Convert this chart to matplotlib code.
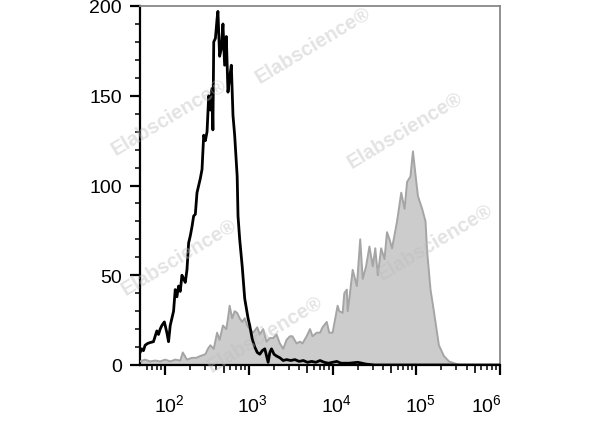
import matplotlib
matplotlib.use("Agg")
import matplotlib.pyplot as plt
import numpy as np
from matplotlib.ticker import FixedLocator, NullFormatter
from matplotlib.transforms import ScaledTranslation

# ---- data (log10 fluorescence intensity, event count) ----
iso_log = [1.70, 1.72, 1.74, 1.76, 1.79, 1.82, 1.86, 1.88, 1.90, 1.92, 1.94, 1.96, 1.99,
           2.02, 2.04, 2.06, 2.08, 2.10, 2.12, 2.14, 2.16, 2.18, 2.20, 2.22, 2.24, 2.26,
           2.28, 2.30, 2.32, 2.34, 2.36, 2.38, 2.40, 2.42, 2.44, 2.46, 2.48, 2.50, 2.52,
           2.54, 2.56, 2.57, 2.58, 2.60, 2.62, 2.63, 2.65, 2.67, 2.69, 2.71, 2.73, 2.75,
           2.77, 2.79, 2.81, 2.83, 2.86, 2.87, 2.89, 2.92, 2.95, 2.99, 3.01, 3.04, 3.07,
           3.10, 3.13, 3.16, 3.19, 3.23, 3.25, 3.27, 3.30, 3.33, 3.37, 3.41, 3.45, 3.50,
           3.55, 3.60, 3.65, 3.70, 3.75, 3.80, 3.85, 3.90, 3.95, 4.00, 4.05, 4.10, 4.20,
           4.30, 4.40, 4.50, 5.00, 6.00]
iso_cnt = [7, 9, 8, 11, 12, 12.5, 13, 16, 19, 17, 20, 22, 24,
           18, 13, 22, 26, 30, 42, 38, 44, 41, 50, 48, 46, 53,
           68, 72, 77, 83, 84, 96, 100, 104, 109, 128, 125, 130, 150,
           142, 154, 131, 180, 182, 193, 197, 172, 176, 190, 167, 183, 152,
           160, 167, 139, 128, 105, 83, 70, 55, 37, 26, 22, 14.5, 10,
           7, 6, 8, 9, 1.5, 7, 9, 6, 5, 4, 2.5, 3, 2.5,
           3, 2, 2.5, 1.5, 2, 1.5, 2.5, 1.5, 1, 1.5, 2, 1, 1,
           1.5, 0.5, 0, 0, 0]

stain_log = [1.70, 1.76, 1.82, 1.88, 1.94, 2.00, 2.06, 2.12, 2.18, 2.21, 2.26, 2.32, 2.37,
             2.42, 2.48, 2.51, 2.54, 2.58, 2.62, 2.65, 2.69, 2.73, 2.75, 2.77, 2.80, 2.83,
             2.86, 2.89, 2.92, 2.95, 2.98, 3.01, 3.05, 3.10, 3.13, 3.17, 3.21, 3.25, 3.29,
             3.33, 3.37, 3.41, 3.45, 3.49, 3.52, 3.57, 3.61, 3.64, 3.69, 3.73, 3.76, 3.81,
             3.85, 3.88, 3.93, 3.96, 4.00, 4.06, 4.08, 4.12, 4.14, 4.17, 4.18, 4.20, 4.24,
             4.29, 4.33, 4.36, 4.40, 4.44, 4.48, 4.51, 4.54, 4.58, 4.62, 4.65, 4.68, 4.71,
             4.77, 4.82, 4.86, 4.89, 4.93, 4.96, 5.00, 5.02, 5.07, 5.11, 5.13, 5.17, 5.21,
             5.27, 5.33, 5.39, 5.45, 5.51, 6.00]
stain_cnt = [2, 3, 2, 2.5, 2, 3, 2, 3, 2.5, 7, 3, 4, 4,
             5, 6, 9, 11, 9, 18, 14, 22, 20, 26, 33, 26, 30,
             29, 26, 24, 26, 22, 20, 18, 21, 17, 20, 13, 15, 15,
             17, 12, 9, 14, 16, 16, 12, 13, 12, 16, 20, 16, 18,
             18, 21, 24, 18, 18, 33, 30, 29, 40, 42, 30, 37, 53,
             44, 70, 48, 55, 66, 55, 65, 50, 65, 59, 74, 70, 65,
             80, 96, 87, 102, 105, 119, 102, 94, 87, 80, 63, 42, 30,
             11, 5, 2, 1, 0, 0]

x_ticks = [1e2, 1e3, 1e4, 1e5, 1e6]
x_ticklabels = ["$10^{2}$", "$10^{3}$", "$10^{4}$", "$10^{5}$", "$10^{6}$"]
y_ticks = [0, 50, 100, 150, 200]

plt.rcParams["font.family"] = ["Liberation Sans", "DejaVu Sans"]
plt.rcParams["mathtext.fontset"] = "custom"
plt.rcParams["mathtext.rm"] = "Liberation Sans"
plt.rcParams["mathtext.it"] = "Liberation Sans"

fig = plt.figure(figsize=(6.0, 4.27), dpi=100)
ax = fig.add_axes([140/600, 1-366/427, 360/600, 359/427])

sx = 10 ** np.array(stain_log)
ix = 10 ** np.array(iso_log)
ax.fill_between(sx, 0, stain_cnt, facecolor="#cccccc", edgecolor="none", zorder=2)
ax.plot(sx, stain_cnt, color="#a5a5a5", lw=1.4, zorder=3)
ax.plot(ix, iso_cnt, color="black", lw=2.0, zorder=4)

ax.set_xscale("log")
ax.set_xlim(50, 1e6)
ax.set_ylim(0, 200)

# spines
for s in ["left", "bottom"]:
    ax.spines[s].set_color("black")
    ax.spines[s].set_linewidth(1.6)
for s in ["top", "right"]:
    ax.spines[s].set_color("#888888")
    ax.spines[s].set_linewidth(1.3)

# x ticks
ax.xaxis.set_major_locator(FixedLocator(x_ticks))
ax.set_xticklabels(x_ticklabels)
minors = [m * 10 ** e for e in range(1, 6) for m in (2, 3, 4, 6, 7, 8, 9)]
ax.xaxis.set_minor_locator(FixedLocator([v for v in minors if 50 <= v <= 1e6]))
ax.xaxis.set_minor_formatter(NullFormatter())
ax.tick_params(axis="x", which="major", length=7.5, width=1.6, pad=13, labelsize=14, direction="out")
ax.tick_params(axis="x", which="minor", length=3.5, width=1.1, direction="out")
for i, lab in enumerate(ax.get_xticklabels()):
    dx = -14 if i == len(x_ticks) - 1 else 4
    lab.set_transform(lab.get_transform() + ScaledTranslation(dx/100, 0, fig.dpi_scale_trans))

sec = ax.secondary_xaxis("bottom")
sec.set_xticks([5e2, 5e3, 5e4, 5e5])
sec.set_xticklabels(["", "", "", ""])
sec.tick_params(axis="x", which="major", length=5.5, width=1.2, direction="out")
sec.xaxis.set_minor_locator(FixedLocator([]))
sec.spines["bottom"].set_visible(False)

# y ticks
ax.yaxis.set_major_locator(FixedLocator(y_ticks))
ax.yaxis.set_minor_locator(FixedLocator(list(range(0, 201, 10))))
ax.tick_params(axis="y", which="major", length=7, width=1.6, pad=6, labelsize=14, direction="out")
ax.tick_params(axis="y", which="minor", length=3.5, width=1.1, direction="out")
ax.tick_params(top=False, right=False, which="both")

# watermarks
wm_pos = [(169, 118), (313, 46), (405, 131), (179, 258), (265, 335), (435, 243)]
for px, py in wm_pos:
    fig.text(px/600, 1-py/427, "Elabscience®", rotation=31, ha="center", va="center",
             fontsize=14.5, fontweight="bold", color="#bdbdbd", alpha=0.42, zorder=10)

fig.savefig("out.png", dpi=100)
